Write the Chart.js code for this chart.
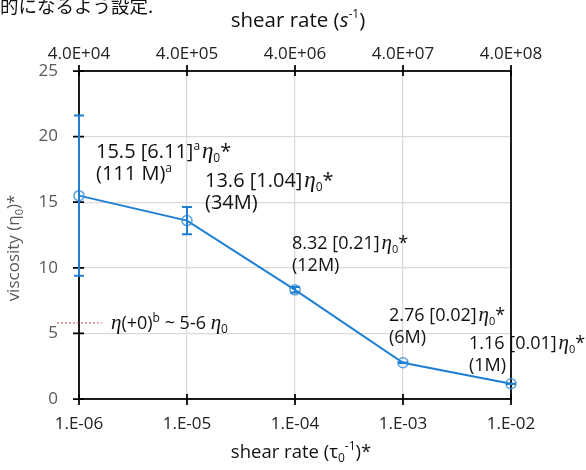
<!DOCTYPE html>
<html>
<head>
<meta charset="utf-8">
<script src="https://cdn.jsdelivr.net/npm/chart.js@4/dist/chart.umd.min.js"></script>
<style>
    html, body { margin: 0; padding: 0; background: #fff; }
    #wrap { width: 586px; height: 470px; }
</style>
</head>
<body>
<div id="wrap"><canvas id="viscChart" width="586" height="470"></canvas></div>
<script>
// Chart data
const shearRate = [1e-6, 1e-5, 1e-4, 1e-3, 1e-2];          // bottom axis, (tau0^-1)*
const viscosity = [15.5, 13.6, 8.32, 2.76, 1.16];          // eta0*
const viscosityErr = [6.11, 1.04, 0.21, 0.02, 0.01];
const sampleSize = ['111 M', '34M', '12M', '6M', '1M'];
const noteMark = ['a', '', '', '', ''];
const bottomTicks = [1e-6, 1e-5, 1e-4, 1e-3, 1e-2];
const topTicks = [4e4, 4e5, 4e6, 4e7, 4e8];                 // shear rate (s^-1)
const zeroShearLevel = 5.8;                                 // eta(+0) ~ 5-6 eta0

// Where each point label sits relative to its point (px), and its font size
const labelOffsets = [[17, -38], [18, -34], [-3, -41], [-14, -42], [-42, -35]];
const labelSizes = [20, 20, 18, 18, 18];

const SANS = '"Open Sans", sans-serif';
const SERIF = '"Liberation Serif", serif';
const BLUE = '#1f7fd2';

// draw a row of text pieces one after another, return the end x
function drawRuns(ctx, x, y, runs) {
    runs.forEach(r => {
        ctx.font = r.font;
        ctx.fillText(r.text, x, y + (r.dy || 0));
        x += ctx.measureText(r.text).width;
    });
    return x;
}

function runsWidth(ctx, runs) {
    let w = 0;
    runs.forEach(r => {
        ctx.font = r.font;
        w += ctx.measureText(r.text).width;
    });
    return w;
}

function sciBottom(v) {
    const e = Math.round(Math.log10(v));
    return '1.E' + (e < 0 ? '-' : '+') + String(Math.abs(e)).padStart(2, '0');
}

function sciTop(v) {
    const e = Math.floor(Math.log10(v) + 1e-9);
    const m = v / Math.pow(10, e);
    return m.toFixed(1) + 'E' + (e < 0 ? '-' : '+') + String(Math.abs(e)).padStart(2, '0');
}

const overlay = {
    id: 'overlay',
    beforeDatasetsDraw(chart) {
        const { ctx, chartArea: a, scales } = chart;
        ctx.save();
        // plot frame
        ctx.strokeStyle = '#000';
        ctx.lineWidth = 1.75;
        ctx.strokeRect(a.left, a.top, a.right - a.left, a.bottom - a.top);

        // crossing tick marks
        ctx.beginPath();
        scales.y.ticks.forEach(t => {
            const y = scales.y.getPixelForValue(t.value);
            ctx.moveTo(a.left - 6, y);
            ctx.lineTo(a.left + 5, y);
        });
        scales.x.ticks.forEach(t => {
            const x = scales.x.getPixelForValue(t.value);
            ctx.moveTo(x, a.bottom - 5);
            ctx.lineTo(x, a.bottom + 6);
        });
        scales.x2.ticks.forEach(t => {
            const x = scales.x2.getPixelForValue(t.value);
            ctx.moveTo(x, a.top - 6);
            ctx.lineTo(x, a.top + 5);
        });
        ctx.stroke();

        // eta(+0) marker line
        const ny = scales.y.getPixelForValue(zeroShearLevel);
        ctx.strokeStyle = '#c0504d';
        ctx.lineWidth = 1;
        ctx.setLineDash([2, 2]);
        ctx.beginPath();
        ctx.moveTo(a.left - 22, ny);
        ctx.lineTo(a.left + 23, ny);
        ctx.stroke();
        ctx.setLineDash([]);

        ctx.fillStyle = '#111';
        ctx.textBaseline = 'alphabetic';
        drawRuns(ctx, a.left + 32, ny + 6, [
            { text: '\u03b7', font: 'italic 21px ' + SERIF },
            { text: '(+0)', font: '18px ' + SANS },
            { text: 'b', font: '12px ' + SANS, dy: -7 },
            { text: ' ~ 5-6 ', font: '18px ' + SANS },
            { text: '\u03b7', font: 'italic 21px ' + SERIF },
            { text: '0', font: '12px ' + SANS, dy: 4 }
        ]);
        ctx.restore();
    },
    afterDatasetsDraw(chart) {
        const { ctx, scales } = chart;
        ctx.save();
        // error bars
        ctx.strokeStyle = BLUE;
        ctx.lineWidth = 2;
        ctx.beginPath();
        shearRate.forEach((sr, i) => {
            const x = scales.x.getPixelForValue(sr);
            const hi = scales.y.getPixelForValue(viscosity[i] + viscosityErr[i]);
            const lo = scales.y.getPixelForValue(viscosity[i] - viscosityErr[i]);
            ctx.moveTo(x, hi); ctx.lineTo(x, lo);
            ctx.moveTo(x - 5, hi); ctx.lineTo(x + 5, hi);
            ctx.moveTo(x - 5, lo); ctx.lineTo(x + 5, lo);
        });
        ctx.stroke();

        // point labels
        ctx.fillStyle = '#111';
        ctx.textBaseline = 'alphabetic';
        shearRate.forEach((sr, i) => {
            const x = scales.x.getPixelForValue(sr) + labelOffsets[i][0];
            const y = scales.y.getPixelForValue(viscosity[i]) + labelOffsets[i][1];
            const fs = labelSizes[i];
            const small = Math.round(fs * 0.62) + 'px ' + SANS;
            const line1 = [{ text: viscosity[i] + ' [' + viscosityErr[i].toFixed(2) + ']', font: fs + 'px ' + SANS }];
            if (noteMark[i]) line1.push({ text: noteMark[i], font: small, dy: -8 });
            line1.push({ text: ' ', font: '7px ' + SANS });
            line1.push({ text: '\u03b7', font: 'italic ' + (fs + 3) + 'px ' + SERIF });
            line1.push({ text: '0', font: small, dy: 4 });
            line1.push({ text: '*', font: fs + 'px ' + SANS });
            drawRuns(ctx, x, y, line1);

            const line2 = [{ text: '(' + sampleSize[i] + ')', font: fs + 'px ' + SANS }];
            if (noteMark[i]) line2.push({ text: noteMark[i], font: small, dy: -8 });
            drawRuns(ctx, x, y + 22.5, line2);
        });
        ctx.restore();
    },
    afterDraw(chart) {
        const { ctx } = chart;
        ctx.save();
        ctx.textBaseline = 'alphabetic';

        // clipped caption text from the page above
        ctx.fillStyle = '#111';
        ctx.font = '18.5px "Noto Sans CJK JP"';
        ctx.fillText('的になるよう設定.', 0, 13);

        // top axis title
        const topTitle = [
            { text: 'shear rate (', font: '20.5px ' + SANS },
            { text: 's', font: 'italic 20.5px ' + SANS },
            { text: '-1', font: '12px ' + SANS, dy: -9 },
            { text: ')', font: '20.5px ' + SANS }
        ];
        drawRuns(ctx, 298 - runsWidth(ctx, topTitle) / 2, 27, topTitle);

        // bottom axis title
        const botTitle = [
            { text: 'shear rate (\u03c4', font: '18.5px ' + SANS },
            { text: '0', font: '12px ' + SANS, dy: 4 },
            { text: '-1', font: '12px ' + SANS, dy: -8 },
            { text: ')*', font: '18.5px ' + SANS }
        ];
        drawRuns(ctx, 301 - runsWidth(ctx, botTitle) / 2, 458, botTitle);

        // y axis title
        ctx.fillStyle = '#595959';
        const yTitle = [
            { text: 'viscosity (\u03b7', font: '17px ' + SANS },
            { text: '0', font: '11px ' + SANS, dy: 4 },
            { text: ')*', font: '17px ' + SANS }
        ];
        ctx.translate(19, 248);
        ctx.rotate(-Math.PI / 2);
        drawRuns(ctx, -runsWidth(ctx, yTitle) / 2, 0, yTitle);
        ctx.restore();
    }
};

new Chart(document.getElementById('viscChart'), {
    type: 'line',
    data: {
        datasets: [{
            data: shearRate.map((x, i) => ({ x: x, y: viscosity[i] })),
            borderColor: BLUE,
            borderWidth: 2,
            pointStyle: 'circle',
            pointRadius: 5,
            pointBorderWidth: 1.5,
            pointBorderColor: 'rgba(60,145,220,0.85)',
            pointBackgroundColor: 'rgba(0,0,0,0)',
            tension: 0,
            clip: false
        }]
    },
    options: {
        responsive: false,
        animation: false,
        layout: { padding: { left: 0, right: 75, top: 0, bottom: 0 } },
        plugins: {
            legend: { display: false },
            tooltip: { enabled: false }
        },
        scales: {
            x: {
                type: 'logarithmic',
                position: 'bottom',
                min: 1e-6,
                max: 1e-2,
                afterBuildTicks: s => { s.ticks = bottomTicks.map(v => ({ value: v })); },
                afterFit: s => { s.height = 71; },
                grid: { color: '#d9d9d9', lineWidth: 1.25, drawTicks: false },
                border: { display: false },
                ticks: {
                    callback: v => sciBottom(v),
                    color: '#222',
                    font: { family: SANS, size: 17 },
                    padding: 15,
                    maxRotation: 0,
                    autoSkip: false
                }
            },
            x2: {
                type: 'logarithmic',
                position: 'top',
                min: 4e4,
                max: 4e8,
                afterBuildTicks: s => { s.ticks = topTicks.map(v => ({ value: v })); },
                afterFit: s => { s.height = 71; },
                grid: { drawOnChartArea: false, drawTicks: false },
                border: { display: false },
                ticks: {
                    callback: v => sciTop(v),
                    color: '#222',
                    font: { family: SANS, size: 17 },
                    padding: 7,
                    maxRotation: 0,
                    autoSkip: false
                }
            },
            y: {
                type: 'linear',
                min: 0,
                max: 25,
                afterFit: s => { s.width = 79; },
                grid: { color: '#d9d9d9', lineWidth: 1.25, drawTicks: false },
                border: { display: false },
                ticks: {
                    stepSize: 5,
                    color: '#595959',
                    font: { family: SANS, size: 17 },
                    padding: 21
                }
            }
        }
    },
    plugins: [overlay]
});
</script>
</body>
</html>
